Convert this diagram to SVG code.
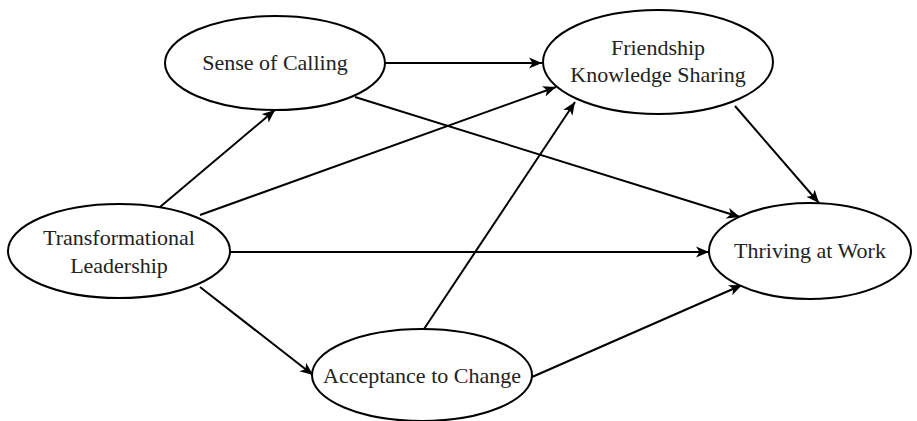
<svg xmlns="http://www.w3.org/2000/svg" width="917" height="421" viewBox="0 0 917 421">
<style>
.node ellipse{fill:#fff;stroke:#000;stroke-width:2}
.node text{font-family:"Liberation Serif","Times New Roman",serif;font-size:22px;fill:#222;text-anchor:middle}
.edges line{stroke:#000;stroke-width:2;marker-end:url(#arr)}
</style>
<defs>
<marker id="arr" markerUnits="userSpaceOnUse" markerWidth="14" markerHeight="12" refX="13" refY="5.5" orient="auto" viewBox="0 0 14 11">
<path d="M0,0 L13,5.5 L0,11 L3.5,5.5 Z" fill="#000"/>
</marker>
</defs>
<rect width="917" height="421" fill="#fff"/>
<g class="edges">
<line x1="385" y1="63" x2="542" y2="63"/>
<line x1="355" y1="97" x2="740" y2="217"/>
<line x1="735" y1="106" x2="819" y2="203"/>
<line x1="160" y1="207" x2="275" y2="110"/>
<line x1="200" y1="215" x2="556" y2="87"/>
<line x1="230" y1="252" x2="709" y2="252"/>
<line x1="200" y1="287" x2="313" y2="375"/>
<line x1="424" y1="329" x2="575" y2="102"/>
<line x1="532" y1="377" x2="742" y2="285"/>
</g>
<g id="sense" class="node"><ellipse cx="275" cy="63" rx="110" ry="47"/><text x="275" y="70">Sense of Calling</text></g>
<g id="friendship" class="node"><ellipse cx="658" cy="62" rx="115" ry="52"/><text x="658" y="55">Friendship</text><text x="658" y="82">Knowledge Sharing</text></g>
<g id="transformational" class="node"><ellipse cx="119" cy="251" rx="111" ry="47"/><text x="119" y="245">Transformational</text><text x="119" y="273">Leadership</text></g>
<g id="thriving" class="node"><ellipse cx="810" cy="251" rx="101" ry="48"/><text x="810" y="258">Thriving at Work</text></g>
<g id="acceptance" class="node"><ellipse cx="422" cy="375" rx="110" ry="46"/><text x="422" y="383">Acceptance to Change</text></g>
</svg>
